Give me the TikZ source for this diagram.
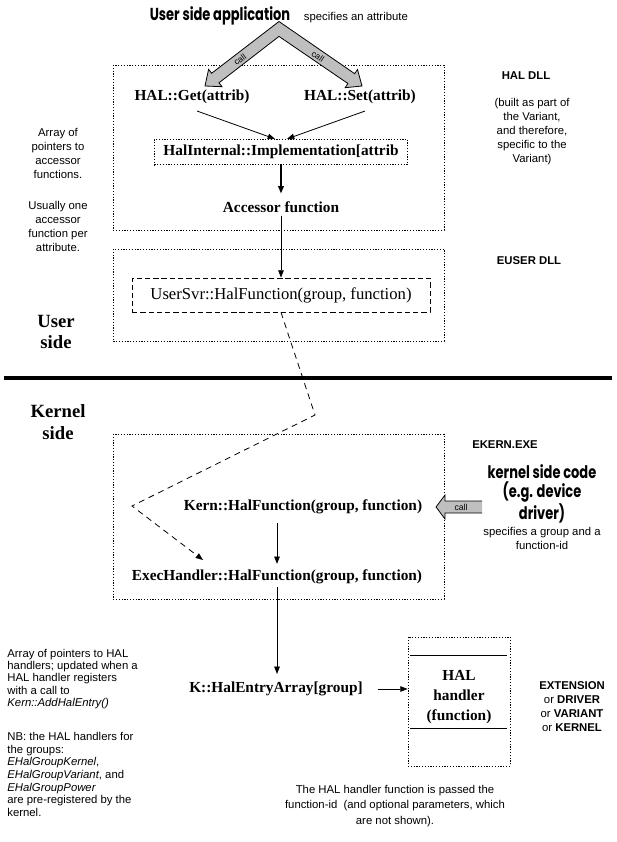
\documentclass[tikz,border=0pt]{standalone}
\usepackage{fontspec}
\setmainfont{Liberation Serif}
\setsansfont{Liberation Sans}
\newfontfamily\kidsfont[FakeStretch=0.75]{Poppins}
\usepackage{tikz}
\usetikzlibrary{arrows.meta,calc}
\definecolor{cqcqcq}{rgb}{0.75,0.75,0.75}
\begin{document}
\begin{tikzpicture}[line cap=butt,line join=miter,>={Triangle[length=5.5pt,width=4.2pt]},x=0.75pt,y=-0.75pt,line width=0.6pt,
  fn/.style={font=\fontsize{11.5}{13}\selectfont\bfseries,inner sep=2pt},
  side/.style={font=\fontsize{14}{16}\selectfont\bfseries,align=center},
  note/.style={font=\sffamily\fontsize{8.5}{10.5}\selectfont,align=center},
  kids/.style={font=\kidsfont\fontsize{13}{14}\selectfont\bfseries,align=center},
  dotbox/.style={draw,dash pattern=on 0.9pt off 1.2pt},
  dashbox/.style={draw,dash pattern=on 4pt off 2.2pt},
  fat/.style={fill=cqcqcq,draw=black,line width=0.6pt},
  calltext/.style={font=\sffamily\fontsize{6.5}{7}\selectfont,inner sep=0pt}]
\useasboundingbox (0,0) rectangle (617,842);
% regions
\draw[dotbox] (113,65) rectangle (444,230);
\draw[dotbox] (113,249) rectangle (444,341);
\draw[dotbox] (113,434) rectangle (444,599);
\draw[line width=2.3pt] (4,378) -- (612,378);
% user side
\node[kids] (title) at (220,16) {User side application};
\node[note,anchor=base west] (titlenote) at ($(title.base east)+(4,0)$) {specifies an attribute};
\draw[fat] (279,21.5) -- (211.6,73.3) -- (208.6,69.3) -- (205,86) -- (222,86.7) -- (219,82.8) -- (279,36.4)
  -- (347.9,83.5) -- (345.1,87.7) -- (362,86) -- (357.5,69.5) -- (354.7,73.7) -- cycle;
\node[calltext,rotate=37.6] (callget) at (240,59.5) {call};
\node[calltext,rotate=-34.5] (callset) at (318,56.5) {call};
\node[fn] (get) at (192,97) {HAL::Get(attrib)};
\node[fn] (set) at (360,97) {HAL::Set(attrib)};
\node[fn,dotbox,minimum width=190pt,minimum height=19pt] (internal) at (281,152) {HalInternal::Implementation[attrib};
\node[fn] (accessor) at (281,207) {Accessor function};
\node[dashbox,font=\fontsize{12.5}{14}\selectfont,minimum width=223.5pt,minimum height=25.5pt] (usersvr) at (281,295) {UserSvr::HalFunction(group, function)};
\draw[->] ($(get.south)+(5,4)$) -- ($(internal.north)+(-6,0)$);
\draw[->] ($(set.south)+(5,4)$) -- ($(internal.north)+(6,0)$);
\draw[->,line width=1.1pt] (internal) -- ($(accessor.north)+(0,-5)$);
\draw[->] (accessor) -- (usersvr);
\node[note] (hallabel) at (526,76) {\bfseries HAL DLL};
\node[note] (builtnote) at (532,131.5) {(built as part of\\the Variant,\\and therefore,\\specific to the\\Variant)};
\node[note] (arraynote) at (58,153) {Array of\\pointers to\\accessor\\functions.};
\node[note] (usualnote) at (58,226.5) {Usually one\\accessor\\function per\\attribute.};
\node[note] (euserlabel) at (529,261) {\bfseries EUSER DLL};
\node[side] (userside) at (56,332) {User\\side};
% kernel side
\node[side] (kernelside) at (58,422) {Kernel\\side};
\node[note] (ekernlabel) at (505,445) {\bfseries EKERN.EXE};
\node[kids,font=\kidsfont\fontsize{13}{14.5}\selectfont\bfseries] (kernelcode) at (542,494) {kernel side code\\(e.g. device\\driver)};
\node[note,font=\sffamily\fontsize{8.5}{10}\selectfont] (groupnote) at (542,538.5) {specifies a group and a\\function-id};
\node[fn] (kern) at (303,507) {Kern::HalFunction(group, function)};
\node[fn] (exec) at (277,577) {ExecHandler::HalFunction(group, function)};
\fill[cqcqcq] (482,501) -- (445,501) -- (445,495) -- (436,507) -- (445,519) -- (445,513) -- (482,513) -- cycle;
\draw (482,501) -- (445,501) -- (445,495) -- (436,507) -- (445,519) -- (445,513) -- (482,513);
\node[calltext] (callkern) at (461,507) {call};
\draw[->] ($(kern.south -| exec.north)+(0,6)$) -- ($(exec.north)+(0,-3)$);
\coordinate (bendtop) at (315,415);
\coordinate (bendleft) at (132,506);
\coordinate (dashend) at (203,560);
\draw[->,dash pattern=on 4.5pt off 3.5pt] (usersvr.south) -- (bendtop) -- (bendleft) -- (dashend);
\node[fn] (entry) at (276,689) {K::HalEntryArray[group]};
\draw[->] (exec) -- ($(exec |- entry.north)+(0,-5)$);
\node[dotbox,minimum width=76.5pt,minimum height=96.75pt] (halbox) at (459,701.5) {};
\draw (410,655) -- (507,655);
\draw (410,728) -- (507,728);
\node[fn,align=center,font=\fontsize{11.5}{15}\selectfont\bfseries] (handler) at (459,697) {HAL\\handler\\(function)};
\draw[->] ($(entry.east)+(12,0)$) -- (entry -| halbox.west);
\node[note] (ownernote) at (572,706.5) {\bfseries EXTENSION\\or \bfseries DRIVER\\or \bfseries VARIANT\\or \bfseries KERNEL};
\node[note,align=left,anchor=west,inner sep=0pt,font=\sffamily\fontsize{8.5}{9.2}\selectfont] (entrynote) at (7,679) {Array of pointers to HAL\\handlers; updated when a\\HAL handler registers\\with a call to\\\textit{Kern::AddHalEntry()}};
\node[note,align=left,anchor=west,inner sep=0pt,font=\sffamily\fontsize{8.5}{9.5}\selectfont] (groupsnote) at (7,774.5) {NB: the HAL handlers for\\the groups:\\\textit{EHalGroupKernel},\\\textit{EHalGroupVariant}, and\\\textit{EHalGroupPower}\\are pre-registered by the\\kernel.};
\node[note,font=\sffamily\fontsize{8.5}{11.5}\selectfont] (passnote) at (395,806) {The HAL handler function is passed the\\function-id\ \ (and optional parameters, which\\are not shown).};
\end{tikzpicture}
\end{document}
